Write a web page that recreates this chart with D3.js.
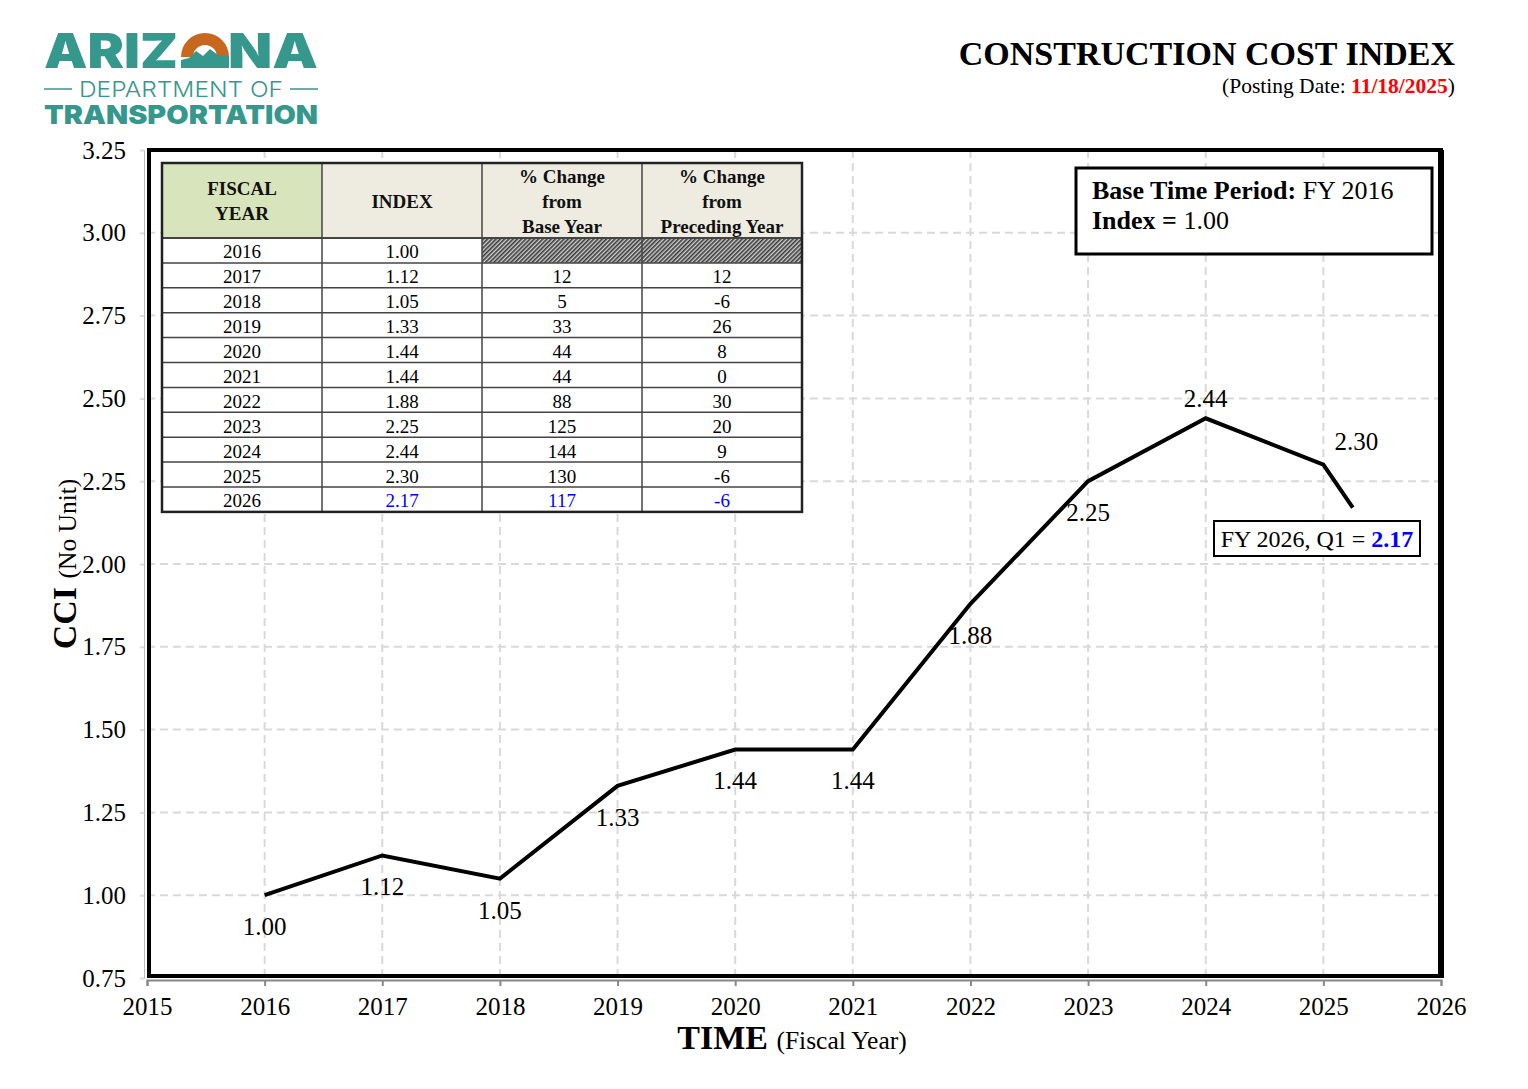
<!DOCTYPE html>
<html><head><meta charset="utf-8">
<script src="https://cdn.jsdelivr.net/npm/d3@7"></script>
<style>body{margin:0;background:#fff}svg{display:block}</style>
</head><body>
<script>
// ---- data ----
const pointYears = [2016, 2017, 2018, 2019, 2020, 2021, 2022, 2023, 2024, 2025, 2025.25];
const pointValues = [1.00, 1.12, 1.05, 1.33, 1.44, 1.44, 1.88, 2.25, 2.44, 2.30, 2.17];
const pointLabels = ["1.00","1.12","1.05","1.33","1.44","1.44","1.88","2.25","2.44","2.30",""];
const xTicks = [2015,2016,2017,2018,2019,2020,2021,2022,2023,2024,2025,2026];
const yTicks = [0.75,1.00,1.25,1.50,1.75,2.00,2.25,2.50,2.75,3.00,3.25];
const tableYears = ["2016","2017","2018","2019","2020","2021","2022","2023","2024","2025","2026"];
const tableIndex = ["1.00","1.12","1.05","1.33","1.44","1.44","1.88","2.25","2.44","2.30","2.17"];
const tablePctBase = ["","12","5","33","44","44","88","125","144","130","117"];
const tablePctPrev = ["","12","-6","26","8","0","30","20","9","-6","-6"];
const tableHeaders = [["FISCAL","YEAR"],["INDEX"],["% Change","from","Base Year"],["% Change","from","Preceding Year"]];

const W = 1528, H = 1089;
const serif = "'Liberation Serif','Times New Roman',serif";
const svg = d3.select("body").append("svg").attr("width", W).attr("height", H);

const x = d3.scaleLinear().domain([2015, 2026]).range([147, 1441]);
const y = d3.scaleLinear().domain([0.75, 3.25]).range([978, 150]);

// hatch pattern
const defs = svg.append("defs");
const pat = defs.append("pattern").attr("id","hatch").attr("patternUnits","userSpaceOnUse")
  .attr("width",3).attr("height",3).attr("patternTransform","rotate(45)");
pat.append("rect").attr("width",3).attr("height",3).attr("fill","#cfcfcf");
pat.append("rect").attr("width",1.6).attr("height",3).attr("fill","#3a3a3a");

// grid
const grid = svg.append("g");
grid.selectAll(".vg").data(xTicks.slice(1,-1)).join("line")
  .attr("x1", d=>x(d)).attr("x2", d=>x(d)).attr("y1", y(3.25)).attr("y2", y(0.75))
  .attr("stroke","#d9d9d9").attr("stroke-width",2).attr("stroke-dasharray","8,5");
grid.selectAll(".hg").data(yTicks.slice(1,-1)).join("line")
  .attr("x1", x(2015)).attr("x2", x(2026)).attr("y1", d=>y(d)).attr("y2", d=>y(d))
  .attr("stroke","#d9d9d9").attr("stroke-width",2).attr("stroke-dasharray","8,5");

// axes (gray)
const xAxis = d3.axisBottom(x).tickValues(xTicks).tickFormat(d3.format("d")).tickSize(6).tickPadding(11);
const gx = svg.append("g").attr("transform","translate(0,980)").call(xAxis);
gx.select(".domain").attr("stroke","#888").attr("stroke-width",2);
gx.selectAll(".tick line").attr("stroke","#888").attr("stroke-width",2);
gx.selectAll("text").attr("font-family",serif).attr("font-size",25).attr("fill","#000");

const yAxis = d3.axisLeft(y).tickValues(yTicks).tickFormat(d3.format(".2f")).tickSize(4).tickPadding(14);
const gy = svg.append("g").attr("transform","translate(144,0)").call(yAxis);
gy.select(".domain").attr("stroke","#bbb").attr("stroke-width",1);
gy.selectAll(".tick line").attr("stroke","#ddd").attr("stroke-width",2);
gy.selectAll("text").attr("font-family",serif).attr("font-size",25).attr("fill","#000");

// frame
svg.append("rect").attr("x", x(2015)+2).attr("y", y(3.25)).attr("width", x(2026)-x(2015)-2)
  .attr("height", y(0.75)-y(3.25)-2).attr("fill","none").attr("stroke","#000").attr("stroke-width",4);
svg.append("line").attr("x1",x(2026)).attr("x2",x(2026)).attr("y1",y(3.25)).attr("y2",y(0.75))
  .attr("stroke","#000").attr("stroke-width",6);

// line
const pts = pointYears.map((d,i)=>[d, pointValues[i]]);
svg.append("path").datum(pts)
  .attr("d", d3.line().x(d=>x(d[0])).y(d=>y(d[1])))
  .attr("fill","none").attr("stroke","#000").attr("stroke-width",4).attr("stroke-linejoin","miter");

// point labels
svg.append("g").selectAll("text").data(pts.slice(0,10)).join("text")
  .attr("x", (d,i)=> x(d[0]) + (i===9 ? 33 : 0))
  .attr("y", (d,i)=> y(d[1]) + (i===8 ? -11 : i===9 ? -15 : 40))
  .attr("text-anchor","middle").attr("font-family",serif).attr("font-size",25)
  .text((d,i)=>pointLabels[i]);

// table
const tx = [162,322,482,642,802];
const tTop = 163, hdrH = 75, rowH = 24.9;
const tbl = svg.append("g").attr("font-family",serif);
tbl.append("rect").attr("x",162).attr("y",tTop).attr("width",640).attr("height",hdrH+rowH*11).attr("fill","#fff");
tableHeaders.forEach((h,c)=>{
  tbl.append("rect").attr("x",tx[c]).attr("y",tTop).attr("width",160).attr("height",hdrH)
    .attr("fill", c===0 ? "#d8e4bc" : "#eeece1");
  const n = h.length, lh = 25;
  h.forEach((t,k)=>{
    tbl.append("text").attr("x",tx[c]+80).attr("y", tTop + hdrH/2 + (k-(n-1)/2)*lh + 7)
      .attr("text-anchor","middle").attr("font-weight","bold").attr("font-size",19).attr("fill","#111").text(t);
  });
});
// hatched cells
[2,3].forEach(c=>{
  tbl.append("rect").attr("x",tx[c]).attr("y",tTop+hdrH).attr("width",160).attr("height",rowH).attr("fill","url(#hatch)");
});
const cols = [tableYears, tableIndex, tablePctBase, tablePctPrev];
cols.forEach((col,c)=>{
  tbl.selectAll(".c"+c).data(col).join("text")
    .attr("x", tx[c]+80).attr("y",(d,i)=> tTop+hdrH+rowH*i+rowH/2+8)
    .attr("text-anchor","middle").attr("font-size",19)
    .attr("fill",(d,i)=> (i===10 && c>0) ? "#0000ff" : "#000").text(d=>d);
});
// grid lines of table
for (let i=1;i<=11;i++){
  tbl.append("line").attr("x1",162).attr("x2",802).attr("y1",tTop+hdrH+rowH*(i-1)).attr("y2",tTop+hdrH+rowH*(i-1))
    .attr("stroke","#444").attr("stroke-width", i===1 ? 2 : 1.5);
}
tx.slice(1,4).forEach(v=>{
  tbl.append("line").attr("x1",v).attr("x2",v).attr("y1",tTop).attr("y2",tTop+hdrH+rowH*11).attr("stroke","#444").attr("stroke-width",1.5);
});
tbl.append("rect").attr("x",162).attr("y",tTop).attr("width",640).attr("height",hdrH+rowH*11)
  .attr("fill","none").attr("stroke","#222").attr("stroke-width",2.5);

// base box
svg.append("rect").attr("x",1076).attr("y",168).attr("width",356).attr("height",86)
  .attr("fill","#fff").attr("stroke","#000").attr("stroke-width",3);
const bt = svg.append("text").attr("x",1092).attr("y",199).attr("font-family",serif).attr("font-size",26);
bt.append("tspan").attr("font-weight","bold").text("Base Time Period: ");
bt.append("tspan").text("FY 2016");
const bt2 = svg.append("text").attr("x",1092).attr("y",229).attr("font-family",serif).attr("font-size",26);
bt2.append("tspan").attr("font-weight","bold").text("Index = ");
bt2.append("tspan").text("1.00");

// FY2026 box
svg.append("rect").attr("x",1214).attr("y",521).attr("width",206).attr("height",35)
  .attr("fill","#fff").attr("stroke","#000").attr("stroke-width",2);
const fb = svg.append("text").attr("x",1317).attr("y",547).attr("text-anchor","middle").attr("font-family",serif).attr("font-size",24);
fb.append("tspan").text("FY 2026, Q1 = ");
fb.append("tspan").attr("font-weight","bold").attr("fill","#0000ff").text(tableIndex[10]);

// titles
svg.append("text").attr("x",1455).attr("y",65).attr("text-anchor","end").attr("font-family",serif)
  .attr("font-weight","bold").attr("font-size",34).text("CONSTRUCTION COST INDEX");
const pd = svg.append("text").attr("x",1455).attr("y",93).attr("text-anchor","end").attr("font-family",serif).attr("font-size",21.5);
pd.append("tspan").text("(Posting Date: ");
pd.append("tspan").attr("fill","#ff0000").attr("font-weight","bold").text("11/18/2025");
pd.append("tspan").text(")");

// axis titles
const xt = svg.append("text").attr("x",792).attr("y",1049).attr("text-anchor","middle").attr("font-family",serif);
xt.append("tspan").attr("font-weight","bold").attr("font-size",34).text("TIME ");
xt.append("tspan").attr("font-size",25.5).text("(Fiscal Year)");
const yt = svg.append("text").attr("transform","translate(76,564) rotate(-90)").attr("text-anchor","middle").attr("font-family",serif);
yt.append("tspan").attr("font-weight","bold").attr("font-size",34).text("CCI ");
yt.append("tspan").attr("font-size",25.5).text("(No Unit)");

// logo
const teal = "#36978d", orange = "#c8681f";
const logo = svg.append("g");
logo.append("text").attr("x",44).attr("y",68).attr("font-family","Inter, 'DejaVu Sans', sans-serif")
  .attr("font-weight",900).attr("font-size",48).attr("fill",teal).attr("textLength",134).attr("lengthAdjust","spacingAndGlyphs").text("ARIZ");
logo.append("text").attr("x",228).attr("y",68).attr("font-family","Inter, 'DejaVu Sans', sans-serif")
  .attr("font-weight",900).attr("font-size",48).attr("fill",teal).attr("textLength",90).attr("lengthAdjust","spacingAndGlyphs").text("NA");
logo.append("path").attr("transform","translate(205,57)")
  .attr("d", d3.arc().innerRadius(12).outerRadius(24).startAngle(-Math.PI/2).endAngle(Math.PI/2)())
  .attr("fill",orange);
logo.append("path").attr("d","M181,68 L181,60 L189,58 L196,51 L203,56 L210,49 L218,55 L229,56 L229,68 Z").attr("fill",teal);
logo.append("line").attr("x1",44).attr("x2",72).attr("y1",89).attr("y2",89).attr("stroke",teal).attr("stroke-width",1.5);
logo.append("line").attr("x1",290).attr("x2",318).attr("y1",89).attr("y2",89).attr("stroke",teal).attr("stroke-width",1.5);
logo.append("text").attr("x",79).attr("y",97).attr("font-family","Inter, 'DejaVu Sans', sans-serif")
  .attr("font-weight",300).attr("font-size",22).attr("fill",teal).attr("textLength",204).attr("lengthAdjust","spacingAndGlyphs").text("DEPARTMENT OF");
logo.append("text").attr("x",44).attr("y",124).attr("font-family","Inter, 'DejaVu Sans', sans-serif")
  .attr("font-weight",900).attr("font-size",26).attr("fill",teal).attr("textLength",274).attr("lengthAdjust","spacingAndGlyphs").text("TRANSPORTATION");
</script>
</body></html>
